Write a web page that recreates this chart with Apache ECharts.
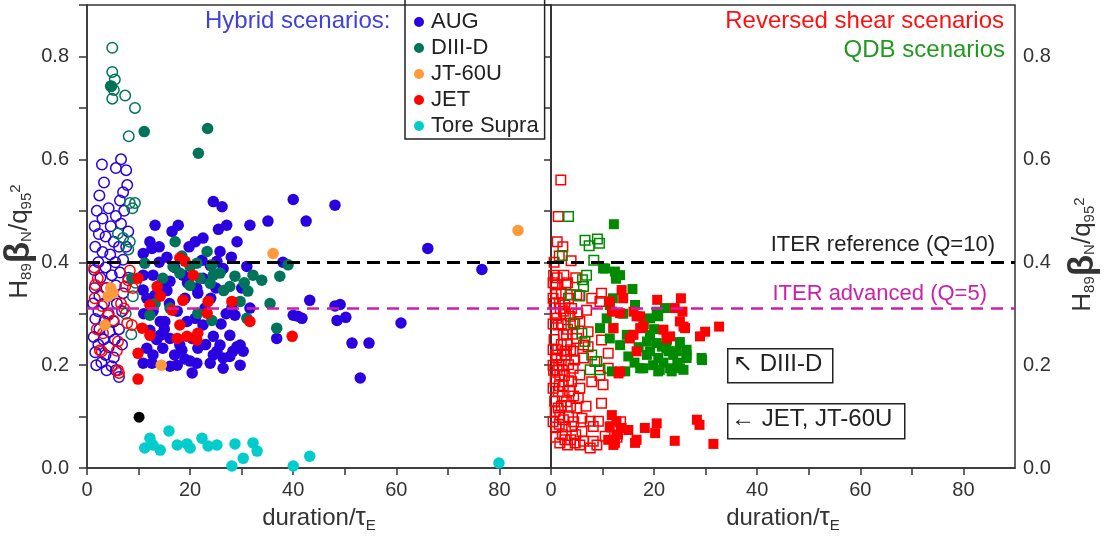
<!DOCTYPE html>
<html>
<head>
<meta charset="utf-8">
<title>Normalised performance vs duration</title>
<script src="https://cdn.jsdelivr.net/npm/echarts@6/dist/echarts.min.js"></script>
<style>
  html, body { margin: 0; padding: 0; background: #fff; }
  #chart { width: 1107px; height: 538px; }
</style>
</head>
<body>
<div id="chart"></div>
<script>
// ---- Hybrid scenarios (left panel), [duration/tauE, H89*betaN/q95^2] ----
var augOpen = [[2.9,0.59],[6.6,0.60],[5.6,0.583],[7.6,0.579],[3.3,0.555],[7.8,0.55],[7.0,0.536],[2.4,0.53],[6.4,0.52],[4.2,0.505],[1.9,0.50],[7.2,0.50],[3.0,0.485],[5.6,0.49],[1.5,0.47],[4.6,0.47],[6.6,0.475],[8.0,0.46],[2.3,0.455],[3.6,0.45],[5.2,0.44],[1.6,0.43],[6.2,0.43],[7.6,0.43],[3.0,0.42],[4.5,0.415],[2.2,0.40],[5.5,0.40],[7.0,0.405],[1.4,0.385],[3.6,0.39],[4.8,0.375],[6.4,0.38],[2.6,0.37],[8.0,0.37],[1.5,0.35],[3.8,0.35],[5.6,0.355],[2.4,0.335],[4.6,0.335],[7.0,0.34],[1.2,0.32],[3.3,0.32],[5.8,0.32],[2.2,0.305],[4.2,0.30],[6.8,0.305],[1.6,0.29],[3.4,0.285],[5.2,0.285],[2.4,0.27],[4.4,0.265],[6.2,0.27],[1.3,0.255],[3.2,0.25],[5.4,0.25],[2.2,0.24],[4.2,0.235],[6.8,0.24],[1.6,0.225],[3.6,0.22],[5.2,0.215],[2.8,0.205],[4.8,0.198],[1.8,0.20],[6.2,0.177],[5.6,0.19],[3.8,0.19]];
var diiidOpen = [[4.9,0.817],[4.9,0.77],[5.4,0.755],[4.7,0.742],[5.2,0.735],[4.9,0.718],[7.4,0.724],[9.3,0.70],[8.1,0.645],[8.3,0.515],[9.3,0.515],[8.8,0.505],[6.0,0.456],[7.0,0.447],[8.3,0.44],[8.0,0.425],[8.9,0.334],[7.5,0.30],[9.4,0.36],[8.6,0.26]];
var jetOpen = [[2.1,0.369],[1.6,0.356],[8.3,0.384],[8.0,0.365],[7.4,0.353],[8.9,0.35],[2.9,0.315],[4.1,0.297],[5.1,0.287],[7.8,0.282],[8.7,0.278],[3.1,0.262],[6.0,0.246],[2.5,0.229],[2.85,0.227],[5.8,0.228],[6.2,0.185],[6.0,0.19],[1.5,0.33],[6.6,0.32],[1.9,0.27],[7.2,0.31],[3.6,0.35],[1.4,0.39]];
var augFilled = [[40.0,0.522],[24.5,0.518],[26.2,0.508],[13.2,0.472],[17.7,0.472],[27.1,0.472],[25.5,0.464],[31.6,0.472],[35.1,0.48],[42.5,0.48],[22.5,0.447],[12.2,0.44],[29.1,0.44],[10.9,0.417],[12.6,0.427],[25.8,0.421],[31.0,0.392],[10.9,0.375],[12.8,0.375],[14.2,0.356],[10.9,0.346],[11.6,0.33],[13.2,0.336],[14.7,0.35],[16.1,0.363],[18.6,0.375],[21.5,0.34],[22.5,0.369],[23.9,0.394],[25.2,0.402],[28.1,0.311],[31.6,0.311],[28.7,0.297],[12.8,0.305],[14.2,0.285],[12.2,0.268],[15.1,0.285],[17.5,0.305],[19.4,0.285],[21.0,0.291],[22.5,0.278],[20.4,0.252],[18.0,0.239],[21.5,0.233],[24.5,0.256],[25.8,0.239],[27.7,0.258],[29.7,0.239],[28.3,0.227],[30.3,0.227],[26.4,0.214],[24.5,0.22],[11.6,0.233],[12.8,0.22],[14.7,0.233],[16.1,0.252],[14.2,0.258],[12.6,0.204],[16.1,0.198],[17.5,0.2],[20.0,0.208],[21.3,0.204],[23.9,0.204],[29.7,0.2],[20.4,0.185],[36.8,0.252],[40.0,0.297],[40.9,0.295],[43.2,0.326],[21.3,0.35],[22.9,0.311],[22.3,0.404],[26.4,0.388],[10.9,0.204],[26.4,0.194],[18.4,0.229],[25.2,0.227],[27.7,0.217],[29.1,0.236],[48.1,0.511],[66.1,0.427],[76.6,0.386],[48.1,0.315],[49.1,0.318],[41.7,0.291],[48.5,0.287],[50.2,0.293],[60.9,0.282],[51.4,0.243],[54.7,0.243],[53.0,0.175],[38.0,0.40],[15.5,0.41],[19.8,0.43],[16.0,0.32],[19.0,0.33],[14.0,0.40],[15.0,0.27],[17.0,0.22],[19.0,0.212],[23.0,0.24],[26.0,0.28],[27.0,0.30],[24.0,0.33],[19.5,0.36],[13.5,0.25],[11.0,0.30],[15.5,0.345],[17.0,0.39],[25.0,0.35],[28.0,0.41],[30.0,0.35],[14.0,0.43],[16.5,0.46],[21.0,0.44]];
var diiidFilled = [[11.1,0.654],[23.4,0.66],[21.6,0.612],[4.6,0.742],[17.1,0.44],[23.3,0.421],[11.2,0.398],[16.7,0.392],[18.0,0.379],[20.0,0.392],[21.3,0.398],[24.2,0.394],[24.5,0.375],[25.8,0.379],[23.9,0.359],[21.9,0.369],[28.7,0.373],[27.7,0.353],[32.2,0.375],[33.9,0.365],[37.4,0.373],[31.2,0.344],[29.7,0.324],[35.5,0.32],[36.8,0.272],[24.2,0.287],[21.5,0.301],[16.1,0.311],[12.2,0.297],[13.2,0.32],[8.7,0.369],[14.7,0.369],[31.0,0.291],[18.4,0.412],[39.0,0.395],[30.5,0.36],[26.5,0.345],[20.0,0.355]];
var jetFilled = [[18.0,0.408],[19.0,0.402],[20.6,0.375],[14.2,0.334],[18.6,0.326],[23.5,0.324],[23.3,0.301],[28.1,0.324],[31.6,0.285],[39.8,0.256],[16.5,0.307],[10.7,0.272],[12.2,0.258],[18.0,0.278],[17.5,0.252],[19.4,0.256],[21.5,0.262],[21.3,0.249],[9.9,0.223],[13.6,0.353],[9.9,0.369],[9.9,0.173],[12.2,0.317]];
var jt60uFilled = [[36.1,0.417],[5.1,0.34],[4.1,0.334],[3.5,0.278],[14.4,0.2],[83.6,0.462],[4.6,0.35]];
var toreSupra = [[12.2,0.058],[11.2,0.039],[14.2,0.035],[15.9,0.072],[17.5,0.045],[19.4,0.047],[20.0,0.039],[22.3,0.058],[23.5,0.043],[25.2,0.045],[28.7,0.047],[28.1,0.004],[30.3,0.019],[32.2,0.049],[33.0,0.033],[40.0,0.004],[43.2,0.023],[79.9,0.01],[12.8,0.045]];
var otherHybrid = [[10.1,0.099]];

// ---- Reversed shear and QDB scenarios (right panel) ----
var rsJetOpen = [[1.9,0.56],[1.4,0.489],[2.3,0.43],[1.6,0.412],[3.9,0.403],[0.5,0.375],[2.5,0.375],[2.9,0.357],[4.8,0.37],[5.5,0.335],[7.9,0.33],[9.8,0.34],[9.5,0.324],[0.8,0.356],[5.0,0.337],[2.7,0.317],[6.9,0.307],[0.8,0.301],[9.8,0.249],[11.1,0.223],[7.9,0.168],[10.1,0.162],[9.8,0.126],[5.6,0.155],[5.3,0.136],[6.0,0.097],[7.6,0.091],[9.2,0.091],[8.2,0.081],[10.5,0.062],[8.2,0.052],[6.3,0.052],[4.7,0.049],[1.7,0.049],[2.7,0.055],[7.6,0.039],[8.9,0.045],[4.0,0.081],[2.4,0.094],[1.7,0.103],[6.0,0.071],[11.1,0.194],[7.2,0.236],[8.5,0.207],[6.3,0.214],[1.4,0.278],[2.4,0.259],[4.3,0.227],[3.4,0.201],[1.7,0.181],[4.0,0.168],[1.4,0.149],[3.0,0.129],[1.4,0.117],[5.0,0.117],[2.7,0.227],[5.0,0.252],[6.3,0.239],[1.1,0.291],[3.7,0.295],[5.6,0.285],[7.2,0.265],[4.3,0.194],[1.1,0.214],[5.6,0.181],[0.8,0.168],[0.6,0.25],[2.0,0.24],[3.2,0.27],[0.9,0.22],[2.2,0.19],[3.6,0.15],[0.7,0.13],[2.4,0.16],[1.0,0.08],[3.4,0.10],[4.6,0.21],[0.6,0.32],[2.0,0.34],[3.4,0.33],[1.5,0.20],[2.8,0.08],[4.8,0.065],[3.8,0.055],[0.9,0.06],[12.8,0.06],[13.5,0.09],[11.8,0.08],[9.5,0.18],[6.8,0.12],[0.6,0.40],[1.2,0.44],[3.1,0.24],[0.5,0.19],[1.8,0.31],[4.0,0.31],[0.4,0.36],[1.0,0.34],[1.6,0.32],[2.8,0.30],[0.4,0.28],[2.0,0.28],[3.0,0.26],[0.4,0.23],[1.3,0.23],[2.0,0.21],[3.0,0.22],[0.4,0.20],[1.2,0.19],[2.6,0.18],[3.4,0.17],[0.4,0.155],[1.6,0.16],[2.2,0.14],[0.8,0.11],[2.0,0.12],[3.8,0.12],[0.4,0.09],[1.6,0.085],[4.4,0.09],[2.2,0.065],[3.2,0.045],[5.6,0.045],[4.4,0.14],[3.8,0.23],[4.2,0.26],[1.2,0.37],[3.2,0.36],[0.4,0.33],[5.2,0.30],[2.4,0.305],[4.6,0.28]];
var qdbOpen = [[3.4,0.489],[6.6,0.443],[7.4,0.432],[9.0,0.445],[9.4,0.437],[2.2,0.413],[8.3,0.404],[6.9,0.375],[6.1,0.366],[6.3,0.353],[4.3,0.282],[6.6,0.246],[8.9,0.207],[9.5,0.191],[7.6,0.191],[6.0,0.262],[7.9,0.22],[5.6,0.335],[3.7,0.337]];
var qdbFilled = [[12.2,0.474],[10.5,0.388],[12.4,0.382],[13.4,0.375],[12.6,0.368],[15.8,0.348],[16.3,0.317],[10.1,0.388],[11.4,0.317],[20.8,0.295],[22.1,0.311],[10.8,0.291],[12.1,0.272],[14.7,0.259],[19.2,0.259],[20.5,0.243],[22.4,0.233],[24.4,0.227],[26.3,0.22],[29.2,0.214],[18.6,0.22],[17.3,0.194],[20.8,0.188],[23.1,0.194],[25.7,0.191],[15.0,0.217],[11.8,0.188],[14.4,0.188],[18.6,0.246],[19.2,0.227],[20.8,0.214],[23.7,0.22],[26.3,0.214],[17.9,0.194],[21.1,0.191],[23.4,0.188],[25.0,0.194],[9.5,0.272],[11.4,0.252],[13.4,0.239],[19.2,0.291],[20.5,0.304],[21.5,0.236],[22.8,0.227],[26.3,0.23],[29.3,0.21],[17.0,0.235],[24.5,0.205],[21.8,0.205],[19.8,0.2],[16.2,0.205],[22.5,0.25],[20.0,0.27],[25.0,0.245],[18.0,0.28],[14.0,0.30],[12.0,0.33]];
var rsJetFilled = [[13.7,0.346],[14.0,0.33],[20.6,0.327],[25.2,0.33],[24.0,0.311],[25.5,0.304],[11.4,0.324],[13.4,0.301],[16.0,0.304],[16.6,0.295],[25.0,0.285],[26.0,0.272],[21.8,0.269],[23.1,0.256],[28.9,0.256],[29.9,0.265],[32.6,0.275],[16.0,0.259],[15.3,0.252],[17.9,0.275],[16.6,0.227],[13.1,0.184],[12.1,0.272],[13.4,0.188],[17.3,0.272],[17.3,0.295],[11.8,0.304],[22.4,0.252],[25.7,0.275],[11.8,0.103],[12.7,0.091],[11.4,0.081],[13.7,0.078],[15.0,0.074],[18.2,0.078],[20.2,0.068],[20.5,0.087],[28.3,0.094],[28.8,0.084],[24.0,0.053],[31.5,0.047],[16.3,0.049],[12.4,0.049],[12.1,0.045],[11.1,0.055],[16.6,0.055],[13.0,0.065]];

// ---- reference levels and axis ticks ----
var iterReference = 0.4;   // Q=10
var iterAdvanced = 0.31;   // Q=5
var xTickLabels = [0, 20, 40, 60, 80];
var yTickLabels = [0.0, 0.2, 0.4, 0.6, 0.8];

var FONT = "'Liberation Sans', Arial, Helvetica, sans-serif";
var C = {
  aug: '#2a00e0', diiid: '#00745a', jt60u: '#ff9a3c', jet: '#ff0000',
  tore: '#00cccc', qdb: '#008a00', other: '#000000',
  axis: '#333333', magenta: '#cc1faa'
};

function xLabel(v) {
  var r = Math.round(v);
  return xTickLabels.indexOf(r) >= 0 && Math.abs(v - r) < 1e-6 ? String(r) : '';
}
function yLabel(v) {
  for (var i = 0; i < yTickLabels.length; i++) {
    if (Math.abs(v - yTickLabels[i]) < 1e-6) return yTickLabels[i].toFixed(1);
  }
  return '';
}

var xName = '{a|duration/}{t|τ}{e|E}';
var xNameRich = {
  a: { fontSize: 24, fontFamily: FONT, color: '#333', lineHeight: 30 },
  t: { fontSize: 26, fontFamily: FONT, color: '#333', lineHeight: 30 },
  e: { fontSize: 15, fontFamily: FONT, color: '#333', verticalAlign: 'bottom', lineHeight: 24 }
};
// H89 betaN / q95^2 : sub- and superscripts are shifted with token padding
var yName = '{h|H}{s|89}{b|β}{s|N}{h|/q}{s|95}{p|2}';
var yNameRich = {
  h: { fontSize: 26, fontFamily: FONT, color: '#333', lineHeight: 40 },
  b: { fontSize: 35, fontFamily: FONT, fontWeight: 'bold', color: '#333', lineHeight: 40 },
  s: { fontSize: 15, fontFamily: FONT, color: '#333', lineHeight: 40, padding: [14, 0, 0, 0] },
  p: { fontSize: 15, fontFamily: FONT, color: '#333', lineHeight: 40, padding: [0, 0, 7, 0] }
};

function xAxisFor(gridIndex) {
  return {
    gridIndex: gridIndex, type: 'value', min: 0, max: 90, interval: 10,
    name: xName, nameLocation: 'middle', nameGap: 34,
    nameTextStyle: { rich: xNameRich },
    axisLine: { show: true, lineStyle: { color: C.axis, width: 1.5 } },
    axisTick: { show: true, inside: false, length: 7, lineStyle: { color: C.axis, width: 1.5 } },
    axisLabel: { formatter: xLabel, fontSize: 20, fontFamily: FONT, color: '#333', margin: 12, showMaxLabel: false },
    splitLine: { show: false }
  };
}

function yAxisFor(gridIndex, right) {
  return {
    gridIndex: gridIndex, type: 'value', min: 0, max: 0.9, interval: 0.1,
    position: right ? 'right' : 'left',
    name: yName, nameLocation: 'middle', nameRotate: 90,
    nameGap: right ? 48 : 40,
    nameTextStyle: { rich: yNameRich, padding: right ? [0, 36, 0, 0] : [0, 10, 0, 0] },
    axisLine: { show: true, lineStyle: { color: C.axis, width: 1.5 } },
    axisTick: { show: true, inside: !!right, length: right ? 7 : 8, lineStyle: { color: C.axis, width: 1.5 } },
    axisLabel: { formatter: yLabel, fontSize: 20, fontFamily: FONT, color: '#333', margin: right ? 8 : 18 },
    splitLine: { show: false }
  };
}

function filled(name, data, color, symbol, size, xi) {
  return {
    name: name, type: 'scatter', xAxisIndex: xi, yAxisIndex: xi, data: data,
    symbol: symbol, symbolSize: size, z: 3,
    itemStyle: { color: color, opacity: 1 }, emphasis: { disabled: true }
  };
}
function hollow(name, data, color, symbol, size, xi) {
  return {
    name: name, type: 'scatter', xAxisIndex: xi, yAxisIndex: xi, data: data,
    symbol: symbol, symbolSize: size, z: 2,
    itemStyle: { color: 'rgba(255,255,255,0)', borderColor: color, borderWidth: 1.5, opacity: 1 },
    emphasis: { disabled: true }
  };
}
function levels(xi) {
  return {
    name: 'levels' + xi, type: 'scatter', xAxisIndex: xi, yAxisIndex: xi, data: [], z: 1,
    markLine: {
      silent: true, symbol: 'none', label: { show: false }, animation: false,
      data: [
        { yAxis: iterReference, lineStyle: { color: '#000', type: [13, 7], width: 3 } },
        { yAxis: iterAdvanced, lineStyle: { color: C.magenta, type: [12, 8], width: 2.5 } }
      ]
    }
  };
}

var chart = echarts.init(document.getElementById('chart'), null, { renderer: 'canvas' });
chart.setOption({
  animation: false,
  backgroundColor: '#fff',
  textStyle: { fontFamily: FONT },
  grid: [
    { left: 87, right: 556, top: 5, bottom: 68, show: true, borderColor: C.axis, borderWidth: 1.5, backgroundColor: 'transparent' },
    { left: 551, right: 92, top: 5, bottom: 68, show: true, borderColor: C.axis, borderWidth: 1.5, backgroundColor: 'transparent' }
  ],
  xAxis: [xAxisFor(0), xAxisFor(1)],
  yAxis: [yAxisFor(0, false), yAxisFor(1, true)],
  legend: {
    data: ['AUG', 'DIII-D', 'JT-60U', 'JET', 'Tore Supra'],
    orient: 'vertical', left: 405, top: -2,
    icon: 'circle', itemWidth: 14, itemHeight: 10, itemGap: 4,
    padding: [13, 6, 2, 9], borderColor: '#222', borderWidth: 1.5,
    backgroundColor: 'transparent', selectedMode: false,
    textStyle: { fontSize: 22, lineHeight: 20, fontFamily: FONT, color: '#222' }
  },
  series: [
    levels(0),
    hollow('AUG open', augOpen, C.aug, 'circle', 10.5, 0),
    hollow('DIII-D open', diiidOpen, C.diiid, 'circle', 10.5, 0),
    hollow('JET open', jetOpen, C.jet, 'circle', 10.5, 0),
    filled('AUG', augFilled, C.aug, 'circle', 11.5, 0),
    filled('DIII-D', diiidFilled, C.diiid, 'circle', 11.5, 0),
    filled('JET', jetFilled, C.jet, 'circle', 11.5, 0),
    filled('JT-60U', jt60uFilled, C.jt60u, 'circle', 11.5, 0),
    filled('Tore Supra', toreSupra, C.tore, 'circle', 11.5, 0),
    filled('other', otherHybrid, C.other, 'circle', 11, 0),
    levels(1),
    hollow('JET RS open', rsJetOpen, C.jet, 'rect', 9.5, 1),
    hollow('QDB open', qdbOpen, C.qdb, 'rect', 9.5, 1),
    filled('QDB', qdbFilled, C.qdb, 'rect', 10, 1),
    filled('JET RS', rsJetFilled, C.jet, 'rect', 10, 1)
  ],
  graphic: [
    { type: 'text', left: 205, top: 9, z: 10, style: { text: 'Hybrid scenarios:', font: '24px ' + FONT, fill: '#4040dd' } },
    { type: 'text', right: 103, top: 9, z: 10, style: { text: 'Reversed shear scenarios', font: '24px ' + FONT, fill: '#ff1010' } },
    { type: 'text', right: 102, top: 38, z: 10, style: { text: 'QDB scenarios', font: '24px ' + FONT, fill: '#1f9a1f' } },
    { type: 'text', right: 112, top: 234, z: 10, style: { text: 'ITER reference (Q=10)', font: '22px ' + FONT, fill: '#222' } },
    { type: 'text', right: 120, top: 283, z: 10, style: { text: 'ITER advanced (Q=5)', font: '22px ' + FONT, fill: C.magenta } },
    { type: 'rect', left: 727, top: 348, z: 10, shape: { width: 105, height: 34 }, style: { fill: '#fff', stroke: '#222', lineWidth: 1.5 } },
    { type: 'text', left: 733, top: 352, z: 11, style: { text: '↖ DIII-D', font: '24px ' + FONT, fill: '#222' } },
    { type: 'rect', left: 727, top: 403, z: 10, shape: { width: 177, height: 35 }, style: { fill: '#fff', stroke: '#222', lineWidth: 1.5 } },
    { type: 'text', left: 731, top: 407, z: 11, style: { text: '← JET, JT-60U', font: '24px ' + FONT, fill: '#222' } }
  ]
});
</script>
</body>
</html>
